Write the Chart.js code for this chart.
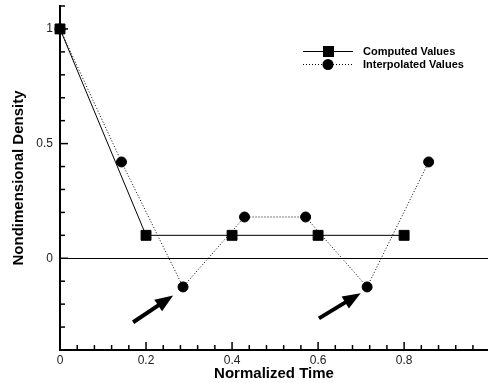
<!DOCTYPE html>
<html>
<head>
<meta charset="utf-8">
<script src="https://cdn.jsdelivr.net/npm/chart.js@4/dist/chart.umd.min.js"></script>
<style>
  html, body { margin: 0; padding: 0; background: #fff; }
  #wrap { width: 488px; height: 383px; }
</style>
</head>
<body>
<div id="wrap"><canvas id="densityChart"></canvas></div>
<script>
// Computed values (solid line, squares)
const computedX = [0, 0.2, 0.4, 0.6, 0.8];
const computedY = [1, 0.1, 0.1, 0.1, 0.1];

// Interpolated values (dotted line, circles)
const interpX = [0, 0.143, 0.286, 0.429, 0.571, 0.714, 0.857];
const interpY = [1, 0.42, -0.125, 0.18, 0.18, -0.125, 0.42];

// Tick labels
const xTickValues = [0, 0.2, 0.4, 0.6, 0.8];
const yTickValues = [0, 0.5, 1];

// Arrows pointing at the undershoots: [tailX, tailY, tipX, tipY] in data units
const arrows = [
  [0.170, -0.279, 0.263, -0.162],
  [0.602, -0.262, 0.699, -0.152]
];

const legendLabels = ['Computed Values', 'Interpolated Values'];

const toPoints = (xs, ys) => xs.map((x, i) => ({ x: x, y: ys[i] }));

// drop the label padding chart.js reserves so the plot area fills the canvas
const noPadding = (scale) => {
  scale.paddingLeft = 0;
  scale.paddingRight = 0;
  scale.paddingTop = 0;
  scale.paddingBottom = 0;
};

// Axis decorations: inward tick marks, zero line, arrows, legend
const decorPlugin = {
  id: 'decor',
  beforeDatasetsDraw: (chart) => {
    const ctx = chart.ctx;
    const xs = chart.scales.x;
    const ys = chart.scales.y;
    const area = chart.chartArea;
    ctx.save();
    ctx.strokeStyle = '#000';

    // zero line
    ctx.lineWidth = 1;
    const y0 = Math.round(ys.getPixelForValue(0)) + 0.5;
    ctx.beginPath();
    ctx.moveTo(area.left, y0);
    ctx.lineTo(area.right, y0);
    ctx.stroke();

    // x ticks (every 0.04, major every 0.2)
    ctx.lineWidth = 1.5;
    for (let i = 0; i <= 25; i++) {
      const px = xs.getPixelForValue(i * 0.04);
      if (px > area.right + 1) break;
      const len = (i % 5 === 0) ? 8 : 5;
      ctx.beginPath();
      ctx.moveTo(px, area.bottom);
      ctx.lineTo(px, area.bottom - len);
      ctx.stroke();
    }
    // y ticks (every 0.1, major every 0.5)
    for (let i = -4; i <= 11; i++) {
      const py = ys.getPixelForValue(i * 0.1);
      const len = (i % 5 === 0) ? 8 : 5;
      ctx.beginPath();
      ctx.moveTo(area.left, py);
      ctx.lineTo(area.left + len, py);
      ctx.stroke();
    }
    ctx.restore();
  },
  afterDraw: (chart) => {
    const ctx = chart.ctx;
    const xs = chart.scales.x;
    const ys = chart.scales.y;
    ctx.save();

    // arrows
    ctx.fillStyle = '#000';
    ctx.strokeStyle = '#000';
    arrows.forEach(a => {
      const x1 = xs.getPixelForValue(a[0]), y1 = ys.getPixelForValue(a[1]);
      const x2 = xs.getPixelForValue(a[2]), y2 = ys.getPixelForValue(a[3]);
      const ang = Math.atan2(y2 - y1, x2 - x1);
      const headLen = 18, headW = 7;
      const bx = x2 - headLen * Math.cos(ang), by = y2 - headLen * Math.sin(ang);
      ctx.lineWidth = 4;
      ctx.beginPath();
      ctx.moveTo(x1, y1);
      ctx.lineTo(bx + 2 * Math.cos(ang), by + 2 * Math.sin(ang));
      ctx.stroke();
      ctx.beginPath();
      ctx.moveTo(x2, y2);
      ctx.lineTo(bx + headW * Math.sin(ang), by - headW * Math.cos(ang));
      ctx.lineTo(bx - headW * Math.sin(ang), by + headW * Math.cos(ang));
      ctx.closePath();
      ctx.fill();
    });

    // legend
    const lx1 = 303, lx2 = 353, mx = 328, tx = 363;
    const rows = [51, 64];
    ctx.lineWidth = 1;
    ctx.beginPath();
    ctx.moveTo(lx1, rows[0] + 0.5);
    ctx.lineTo(lx2, rows[0] + 0.5);
    ctx.stroke();
    ctx.fillRect(mx - 5, rows[0] - 5, 11, 11);
    ctx.setLineDash([1, 2]);
    ctx.beginPath();
    ctx.moveTo(lx1, rows[1] + 0.5);
    ctx.lineTo(lx2, rows[1] + 0.5);
    ctx.stroke();
    ctx.setLineDash([]);
    ctx.beginPath();
    ctx.arc(mx, rows[1] + 0.5, 5.5, 0, Math.PI * 2);
    ctx.fill();

    ctx.font = 'bold 11px "Liberation Sans", Arial, sans-serif';
    ctx.textBaseline = 'middle';
    ctx.textAlign = 'left';
    ctx.fillText(legendLabels[0], tx, rows[0] + 1);
    ctx.fillText(legendLabels[1], tx, rows[1] + 1);
    ctx.restore();
  }
};

const ctx = document.getElementById('densityChart').getContext('2d');

new Chart(ctx, {
  type: 'line',
  data: {
    datasets: [
      {
        label: legendLabels[0],
        data: toPoints(computedX, computedY),
        borderColor: '#000',
        borderWidth: 1,
        backgroundColor: '#000',
        pointStyle: 'rect',
        pointRadius: 7,
        pointBorderWidth: 1,
        pointBorderColor: '#000',
        pointBackgroundColor: '#000',
        fill: false,
        tension: 0,
        clip: false
      },
      {
        label: legendLabels[1],
        data: toPoints(interpX, interpY),
        borderColor: '#000',
        borderWidth: 1,
        borderDash: [1, 2],
        backgroundColor: '#000',
        pointStyle: 'circle',
        pointRadius: 5,
        pointBorderWidth: 1,
        pointBorderColor: '#000',
        pointBackgroundColor: '#000',
        fill: false,
        tension: 0,
        clip: false
      }
    ]
  },
  options: {
    responsive: true,
    maintainAspectRatio: false,
    animation: false,
    layout: { autoPadding: false, padding: { top: 6, right: 0, left: 0, bottom: 0 } },
    plugins: {
      legend: { display: false },
      tooltip: { enabled: false }
    },
    scales: {
      x: {
        type: 'linear',
        min: 0,
        max: 0.995,
        afterFit: (scale) => { scale.height = 33; noPadding(scale); },
        afterBuildTicks: (scale) => { scale.ticks = xTickValues.map(v => ({ value: v })); },
        ticks: {
          color: '#222',
          font: { family: '"Liberation Sans", Arial, sans-serif', size: 12 },
          padding: 3,
          maxRotation: 0,
          callback: (v) => String(v)
        },
        grid: { display: false, drawTicks: false },
        border: { display: true, color: '#000', width: 2 },
        title: {
          display: true,
          text: 'Normalized Time',
          color: '#000',
          font: { family: '"Liberation Sans", Arial, sans-serif', size: 15, weight: 'bold' },
          padding: { top: 1, bottom: 0 }
        }
      },
      y: {
        type: 'linear',
        min: -0.4,
        max: 1.1,
        afterFit: (scale) => { scale.width = 60; noPadding(scale); },
        afterBuildTicks: (scale) => { scale.ticks = yTickValues.map(v => ({ value: v })); },
        ticks: {
          color: '#222',
          font: { family: '"Liberation Sans", Arial, sans-serif', size: 12 },
          padding: 7,
          callback: (v) => String(v)
        },
        grid: { display: false, drawTicks: false },
        border: { display: true, color: '#000', width: 2 },
        title: {
          display: true,
          text: 'Nondimensional Density',
          color: '#000',
          font: { family: '"Liberation Sans", Arial, sans-serif', size: 15, weight: 'bold' },
          padding: { top: 10, bottom: 0 }
        }
      }
    }
  },
  plugins: [decorPlugin]
});
</script>
</body>
</html>
